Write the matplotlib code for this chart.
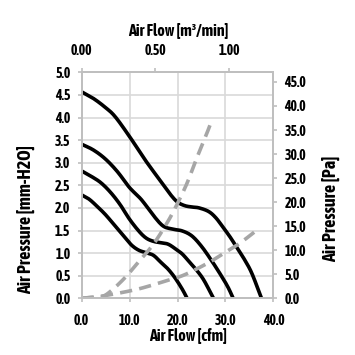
import matplotlib
matplotlib.use("Agg")
import numpy as np
import matplotlib.pyplot as plt

plt.rcParams['font.family'] = ['Asap Condensed', 'Archivo Narrow', 'Liberation Sans', 'DejaVu Sans']

# Fan P-Q curves (cfm vs mm-H2O)
c1_x = [0, 2.5, 5, 7, 10, 13, 16, 18.5, 20, 21.5, 23, 24.5, 26.5, 28, 29.5, 31, 32.5, 34, 35.5, 37.5]
c1_y = [4.57, 4.42, 4.22, 4.02, 3.58, 3.1, 2.66, 2.3, 2.13, 2.05, 2.02, 2.0, 1.92, 1.78, 1.57, 1.35, 1.1, 0.85, 0.55, 0.0]
c2_x = [0, 2.5, 5, 7.5, 10, 12.5, 15, 17, 19, 21, 23, 25, 27, 29, 30.5, 31.6]
c2_y = [3.41, 3.28, 3.08, 2.8, 2.45, 2.18, 1.83, 1.6, 1.53, 1.49, 1.38, 1.15, 0.85, 0.52, 0.25, 0.0]
c3_x = [0, 2, 4, 6, 8, 10, 12, 13.5, 15, 16.5, 18, 19.5, 21, 22.5, 24, 25.5, 27.5]
c3_y = [2.82, 2.7, 2.56, 2.35, 2.08, 1.75, 1.48, 1.33, 1.26, 1.23, 1.2, 1.1, 0.98, 0.8, 0.62, 0.4, 0.0]
c4_x = [0, 1.5, 3, 5, 7, 9, 10.5, 12, 13.5, 15, 16.5, 18, 19.5, 21, 22]
c4_y = [2.29, 2.2, 2.06, 1.85, 1.6, 1.35, 1.17, 1.06, 1.01, 0.95, 0.8, 0.65, 0.45, 0.2, 0.0]

# System impedance curves
s1_x = [0, 2, 4, 6, 9, 12, 15, 18, 20, 22, 24, 26, 27.2]
s1_y = [0, 0.02, 0.02, 0.15, 0.45, 0.82, 1.2, 1.7, 2.1, 2.55, 3.1, 3.62, 3.95]
s2_x = [0, 3, 6, 9, 12, 15, 18, 21, 24, 27, 30, 33, 36.8]
s2_y = [0, 0.03, 0.08, 0.14, 0.21, 0.3, 0.4, 0.5, 0.65, 0.82, 1.02, 1.22, 1.53]

x_ticks = [0, 10, 20, 30, 40]
x_labels = ["0.0", "10.0", "20.0", "30.0", "40.0"]
top_ticks = [0, 0.5, 1.0]
top_labels = ["0.00", "0.50", "1.00"]
left_ticks = [0, 0.5, 1, 1.5, 2, 2.5, 3, 3.5, 4, 4.5, 5]
right_ticks = [0, 5, 10, 15, 20, 25, 30, 35, 40, 45]


def smooth(xs, ys, n=12):
    """Catmull-Rom rendering through the given points (like a smoothed line)."""
    p = np.column_stack([xs, ys]).astype(float)
    p = np.vstack([p[0] * 2 - p[1], p, p[-1] * 2 - p[-2]])
    out = []
    t = np.linspace(0, 1, n, endpoint=False)[:, None]
    for i in range(1, len(p) - 2):
        p0, p1, p2, p3 = p[i - 1], p[i], p[i + 1], p[i + 2]
        seg = 0.5 * ((2 * p1) + (-p0 + p2) * t + (2 * p0 - 5 * p1 + 4 * p2 - p3) * t ** 2
                     + (-p0 + 3 * p1 - 3 * p2 + p3) * t ** 3)
        out.append(seg)
    out.append(p[-2][None, :])
    out = np.vstack(out)
    return out[:, 0], out[:, 1]


fig = plt.figure(figsize=(3.55, 3.55), dpi=100)
ax = fig.add_axes([0.2296, 0.1597, 0.5408, 0.6366])

spine_c = "#bfbfbf"
grid_c = "#d9d9d9"

for cx, cy in [(c1_x, c1_y), (c2_x, c2_y), (c3_x, c3_y), (c4_x, c4_y)]:
    sx_, sy_ = smooth(cx, cy)
    ax.plot(sx_, sy_, color="black", lw=2.6, solid_capstyle="butt", solid_joinstyle="round", zorder=3)
for sx, sy in [(s1_x, s1_y), (s2_x, s2_y)]:
    sx_, sy_ = smooth(sx, sy)
    ax.plot(sx_, sy_, color="#a6a6a6", lw=2.6, dashes=(3.4, 2.0), zorder=4)

ax.set_xlim(0, 40)
ax.set_ylim(0, 5)
ax.set_xticks(x_ticks)
ax.set_xticklabels(x_labels)
ax.set_yticks(left_ticks)
ax.set_yticklabels([f"{v:.1f}" for v in left_ticks])
ax.grid(True, color=grid_c, lw=1.2, zorder=0)
ax.set_axisbelow(True)

for s in ax.spines.values():
    s.set_color(spine_c)
    s.set_linewidth(1.2)

TS = 10
ax.tick_params(axis="x", color=spine_c, length=3, width=1.2, direction="out", labelsize=TS, pad=8)
ax.tick_params(axis="y", color=spine_c, length=3, width=1.2, direction="out", labelsize=TS, pad=5)
for lab in ax.get_xticklabels() + ax.get_yticklabels():
    lab.set_fontweight("bold")

axt = ax.twiny()
axt.set_xlim(0, 1.3)
axt.set_xticks(top_ticks)
axt.set_xticklabels(top_labels)
axt.tick_params(axis="x", color=spine_c, length=3, width=1.2, direction="out", labelsize=TS, pad=7)
for lab in axt.get_xticklabels():
    lab.set_fontweight("bold")

axr = ax.twinx()
axr.set_ylim(0, 47)
axr.set_yticks(right_ticks)
axr.set_yticklabels([f"{v:.1f}" for v in right_ticks])
axr.tick_params(axis="y", color=spine_c, length=3, width=1.2, direction="out", labelsize=TS, pad=5)
for lab in axr.get_yticklabels():
    lab.set_fontweight("bold")
for a in (axt, axr):
    for s in a.spines.values():
        s.set_color(spine_c)
        s.set_linewidth(1.2)

LS = 11.5
VS = 13
fig.text(178 / 355, 1 - 30 / 355, "Air Flow [m³/min]", ha="center", va="center", fontsize=LS, fontweight="bold")
fig.text(188 / 355, 1 - 335 / 355, "Air Flow [cfm]", ha="center", va="center", fontsize=LS, fontweight="bold")
fig.text(26 / 355, 1 - 220 / 355, "Air Pressure [mm-H2O]", ha="center", va="center", rotation=90,
         fontsize=VS, fontweight="bold")
fig.text(331 / 355, 1 - 209 / 355, "Air Pressure [Pa]", ha="center", va="center", rotation=90,
         fontsize=VS, fontweight="bold")

fig.savefig("out.png", dpi=100)
